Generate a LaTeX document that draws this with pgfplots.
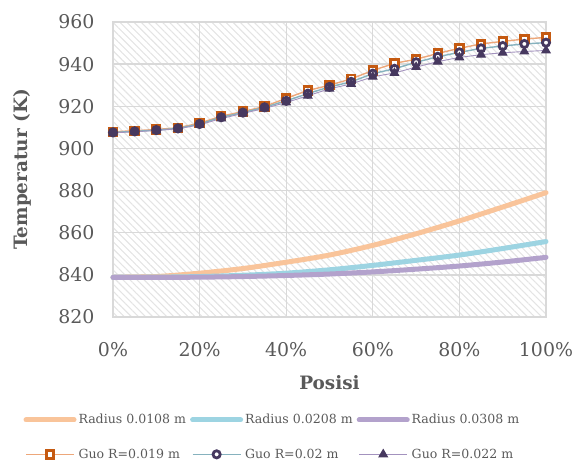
\documentclass[border=0pt]{standalone}
\usepackage{fontspec}
\setmainfont{DejaVu Serif}
\usepackage{pgfplots}
\pgfplotsset{compat=1.18}
\usetikzlibrary{patterns.meta}
\definecolor{txt}{HTML}{595959}
\definecolor{gridc}{HTML}{D9D9D9}
\definecolor{hatch}{HTML}{E4E4E4}
\definecolor{rA}{HTML}{F9C49A}
\definecolor{rB}{HTML}{9DD4E2}
\definecolor{rC}{HTML}{B3A2CC}
\definecolor{gA}{HTML}{EDA77A}
\definecolor{gAm}{HTML}{C55A11}
\definecolor{gB}{HTML}{86B2BE}
\definecolor{gC}{HTML}{A392BE}
\definecolor{gm}{HTML}{46385F}
\begin{document}
\begin{tikzpicture}
\useasboundingbox (-113bp,-144bp) rectangle (462bp,317bp);
\begin{axis}[
  at={(0,0)}, anchor=south west,
  scale only axis, width=433bp, height=295bp,
  xmin=0, xmax=100, ymin=820, ymax=960,
  clip=false,
  xtick={0,20,40,60,80,100},
  xticklabels={0\%,20\%,40\%,60\%,80\%,100\%},
  ytick={820,840,...,960},
  major tick length=0pt,
  /pgf/number format/assume math mode=true,
  /pgf/number format/1000 sep={},
  tick label style={font=\fontsize{19}{21}\selectfont, text=txt},
  yticklabel style={xshift=-15bp},
  xticklabel style={yshift=-22bp},
  grid=major,
  major grid style={draw=gridc, line width=1.3bp},
  axis line style={draw=gridc, line width=1.3bp},
  axis background/.style={pattern={Lines[angle=-45,distance=5bp,line width=1.1bp]}, pattern color=hatch},
  xlabel={\textbf{Posisi}},
  ylabel={\textbf{Temperatur (K)}},
  label style={font=\fontsize{18.5}{20}\selectfont, text=txt},
  xlabel style={at={(axis description cs:0.5,-0.224)}, anchor=center},
  ylabel style={at={(axis description cs:-0.210,0.5)}, anchor=center},
  legend columns=3,
  legend cell align=left,
  legend style={at={(axis description cs:-0.214,-0.316)}, anchor=north west,
    draw=none, fill=none, font=\rmfamily\fontsize{12.6}{14}\selectfont, text=txt,
    nodes={inner sep=2bp},
    row sep=19.5bp,
    /tikz/every even column/.append style={column sep=2bp}},
  legend image code/.code={\draw[mark repeat=2,mark phase=2,#1] plot coordinates {(0bp,0bp) (24bp,0bp) (48bp,0bp)};},
]
\addplot[rA, line width=5bp, line cap=round, smooth, mark=none] coordinates {
(0,838.8) (10,839.2) (20,840.8) (30,843.0) (40,846.0) (50,849.4) (60,854.0) (70,859.5) (80,865.6) (90,872.2) (100,879.0)};
\addlegendentry{Radius 0.0108 m}
\addplot[rB, line width=5bp, line cap=round, smooth, mark=none] coordinates {
(0,838.8) (10,838.9) (20,839.2) (30,839.8) (40,840.8) (50,842.4) (60,844.5) (70,846.9) (80,849.4) (90,852.5) (100,855.8)};
\addlegendentry{Radius 0.0208 m}
\addplot[rC, line width=5bp, line cap=round, smooth, mark=none] coordinates {
(0,838.8) (10,838.8) (20,838.9) (30,839.2) (40,839.7) (50,840.4) (60,841.4) (70,842.7) (80,844.2) (90,846.1) (100,848.3)};
\addlegendentry{Radius 0.0308 m}
\addplot[gA, line width=1.4bp, mark=square*, mark size=3.8bp, mark options={draw=gAm, fill=white, line width=2.8bp, solid}] coordinates {
(0,907.9) (5,908.4) (10,909.0) (15,909.8) (20,912.0) (25,915.3) (30,917.5) (35,919.9) (40,923.8) (45,927.5) (50,930.0) (55,933.0) (60,937.0) (65,940.4) (70,942.3) (75,945.1) (80,947.5) (85,949.6) (90,950.8) (95,951.9) (100,952.7)};
\addlegendentry{Guo R=0.019 m}
\addplot[gB, line width=1.4bp, mark=*, mark size=3.6bp, mark options={draw=gm, fill=white, line width=2.8bp, solid}] coordinates {
(0,907.6) (5,908.1) (10,908.7) (15,909.5) (20,911.6) (25,914.8) (30,917.0) (35,919.5) (40,922.6) (45,926.0) (50,929.2) (55,931.6) (60,935.5) (65,937.8) (70,940.9) (75,943.5) (80,945.6) (85,947.5) (90,948.6) (95,949.6) (100,950.2)};
\addlegendentry{Guo R=0.02 m}
\addplot[gC, line width=0.9bp, mark=triangle*, mark size=4.8bp, mark options={draw=gm, fill=gm, line width=1bp, solid}] coordinates {
(0,907.4) (5,907.9) (10,908.5) (15,909.3) (20,911.2) (25,914.2) (30,916.6) (35,919.0) (40,921.8) (45,925.0) (50,928.3) (55,930.6) (60,934.0) (65,935.8) (70,938.6) (75,941.2) (80,943.2) (85,944.5) (90,945.4) (95,946.0) (100,946.5)};
\addlegendentry{Guo R=0.022 m}
\end{axis}
\end{tikzpicture}
\end{document}
